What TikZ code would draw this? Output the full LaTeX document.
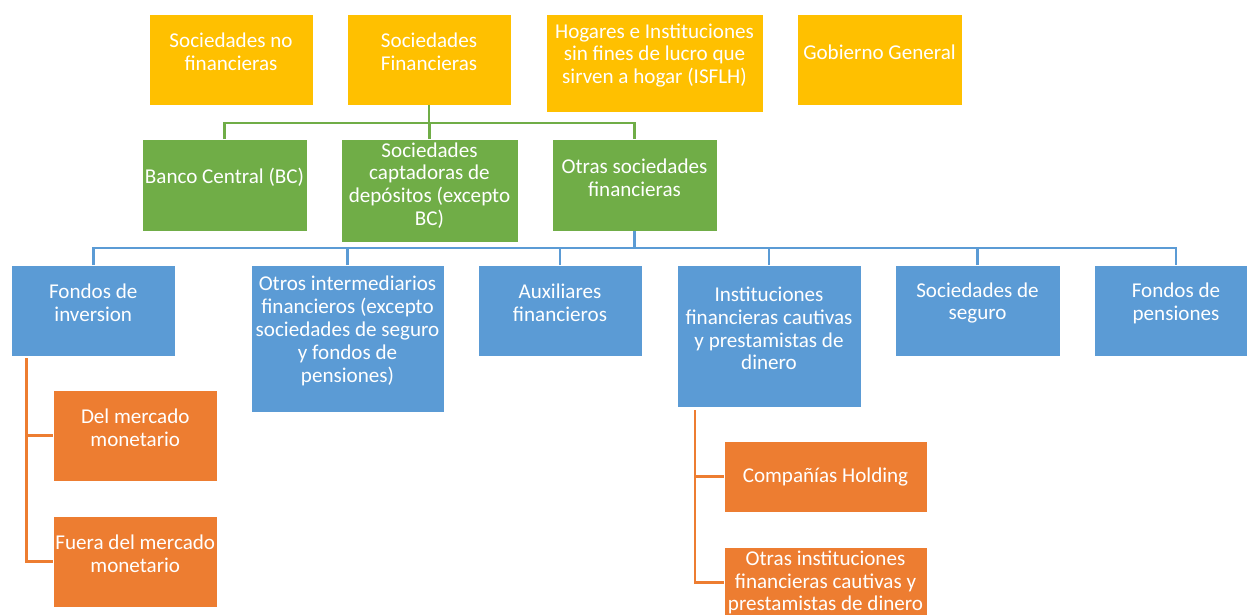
\documentclass[tikz,border=0pt]{standalone}
\usepackage{fontspec}
\setmainfont{Carlito}
\usepackage{xcolor}
\usepackage{tikz}
\usetikzlibrary{positioning}

\definecolor{secyellow}{HTML}{FFC000}
\definecolor{secgreen}{HTML}{70AD47}
\definecolor{secblue}{HTML}{5B9BD5}
\definecolor{secorange}{HTML}{ED7D31}

\begin{document}
\begin{tikzpicture}[
    node distance=0cm and 0.68cm,
    box/.style={rectangle, inner sep=0pt, outer sep=0pt, draw=white, line width=0.4pt, minimum width=3.28cm, minimum height=1.82cm},
    midtxt/.style={text=white, align=center, font=\fontsize{12}{13}\selectfont, inner sep=0pt},
    txt/.style={midtxt, yshift=0.15cm},
    sector/.style={box, fill=secyellow},
    subsector/.style={box, fill=secgreen},
    financial/.style={box, fill=secblue},
    detail/.style={box, fill=secorange},
    link/.style={line width=1.6pt}
]
\useasboundingbox (0,0) rectangle (24.94,-12.30);

% sectores institucionales
\node (snf) [sector, anchor=north west, label={[txt]center:Sociedades no\\financieras}] at (2.98,-0.28) {};
\node (sf) [sector, below right=of snf.north east, label={[txt]center:Sociedades\\Financieras}] {};
\node (hog) [sector, below right=0cm and 0.70cm of sf.north east, minimum width=4.34cm, minimum height=1.96cm,
    label={[txt]center:Hogares e Instituciones\\sin fines de lucro que\\sirven a hogar (ISFLH)}] {};
\node (gob) [sector, below right=of hog.north east, minimum width=3.30cm, label={[txt]center:Gobierno General}] {};

% sociedades financieras
\node (bc) [subsector, anchor=north west, minimum width=3.30cm, minimum height=1.84cm,
    label={[txt]center:Banco Central (BC)}] at (2.84,-2.78) {};
\node (scd) [subsector, below right=of bc.north east, minimum width=3.54cm, minimum height=2.06cm,
    label={[txt, yshift=-0.05cm]center:Sociedades\\captadoras de\\depósitos (excepto\\BC)}] {};
\node (osf) [subsector, below right=of scd.north east, minimum width=3.30cm, minimum height=1.84cm,
    label={[txt]center:Otras sociedades\\financieras}] {};

% otras sociedades financieras
\node (fi) [financial, anchor=north west, minimum width=3.29cm, label={[txt]center:Fondos de\\inversion}] at (0.22,-5.30) {};
\node (oif) [financial, below right=0cm and 1.51cm of fi.north east, minimum width=3.86cm, minimum height=2.94cm,
    label={[txt]center:Otros intermediarios\\financieros (excepto\\sociedades de seguro\\y fondos de\\pensiones)}] {};
\node (af) [financial, below right=of oif.north east, label={[txt]center:Auxiliares\\financieros}] {};
\node (ifc) [financial, below right=0cm and 0.70cm of af.north east, minimum width=3.68cm, minimum height=2.84cm,
    label={[txt]center:Instituciones\\financieras cautivas\\y prestamistas de\\dinero}] {};
\node (ss) [financial, below right=of ifc.north east, minimum width=3.30cm, label={[txt]center:Sociedades de\\seguro}] {};
\node (fp) [financial, below right=of ss.north east, label={[txt]center:Fondos de\\pensiones}] {};

% desglose
\node (dmm) [detail, below right=0.68cm and 0.84cm of fi.south west, minimum width=3.29cm,
    label={[txt]center:Del mercado\\monetario}] {};
\node (fmm) [detail, below right=0.70cm and 0cm of dmm.south west, minimum width=3.29cm,
    label={[txt]center:Fuera del mercado\\monetario}] {};
\node (ch) [detail, below right=0.68cm and 0.94cm of ifc.south west, minimum width=4.06cm, minimum height=1.42cm,
    label={[midtxt]center:Compañías Holding}] {};
\node (oic) [detail, below right=0.70cm and 0cm of ch.south west, minimum width=4.06cm, minimum height=1.42cm,
    label={[midtxt]center:Otras instituciones\\financieras cautivas y\\prestamistas de dinero}] {};

% conectores
\coordinate (gbus) at ([yshift=-0.36cm]sf.south);
\draw[link, secgreen] (sf.south) -- (gbus);
\draw[link, secgreen] (bc.north) |- (gbus) -| (osf.north);
\draw[link, secgreen] (scd.north) |- (gbus);

\coordinate (bbus) at ([yshift=-0.34cm]osf.south);
\draw[link, secblue] (osf.south) -- (bbus);
\draw[link, secblue] (fi.north) |- (bbus) -| (fp.north);
\foreach \n in {oif, af, ifc, ss}
    \draw[link, secblue] (\n.north) |- (bbus);

\coordinate (fitrunk) at ([xshift=0.31cm, yshift=-0.04cm]fi.south west);
\draw[link, secorange] (fitrunk) |- (dmm.west);
\draw[link, secorange] (fitrunk) |- (fmm.west);

\coordinate (ifctrunk) at ([xshift=0.36cm, yshift=-0.06cm]ifc.south west);
\draw[link, secorange] (ifctrunk) |- (ch.west);
\draw[link, secorange] (ifctrunk) |- (oic.west);

\end{tikzpicture}
\end{document}
